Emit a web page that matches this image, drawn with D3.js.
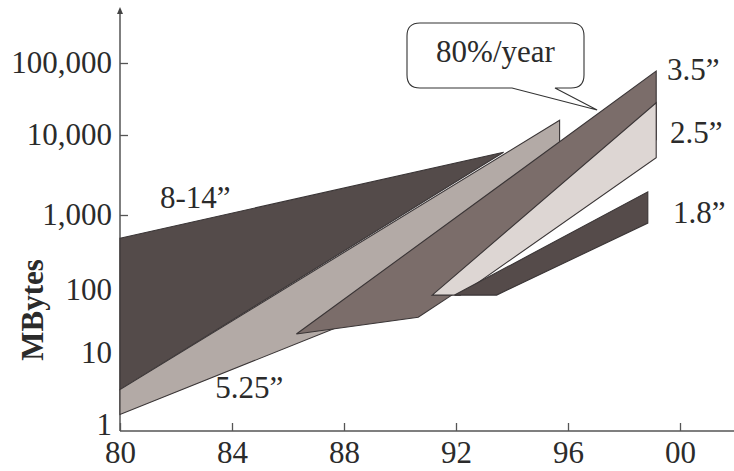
<!DOCTYPE html>
<html>
<head>
<meta charset="utf-8">
<script src="https://cdn.jsdelivr.net/npm/d3@7"></script>
<style>
  body { margin: 0; background: #fff; }
  svg { display: block; font-family: "Liberation Serif", "Times New Roman", serif; }
  .tick text { font-size: 31px; fill: #2b2b2b; }
  .label { font-size: 31px; fill: #2b2b2b; }
  .drive { stroke: #3a3536; stroke-width: 1.1; stroke-linejoin: miter; }
</style>
</head>
<body>
<div id="chart"></div>
<script>
// disk capacity bands, [year, MBytes] outline points
const drive8to14 = [[1980, 490], [1993.7, 6100], [1980, 3.1]];
const drive525 = [[1980, 3.1], [1995.7, 16000], [1995.7, 8700], [1995.7, 3700], [1989.3, 48], [1980, 1.4]];
const drive35 = [[1986.3, 20], [1999.15, 77000], [1999.15, 8700], [1991.85, 83], [1990.65, 37]];
const drive25 = [[1991.15, 83], [1999.15, 28000], [1999.15, 5200], [1992.15, 83]];
const drive18 = [[1991.95, 83], [1998.85, 1950], [1998.85, 780], [1993.45, 83]];

const driveNames = ['8-14\u201d', '5.25\u201d', '3.5\u201d', '2.5\u201d', '1.8\u201d'];
const driveColors = ['#544b4a', '#b3aaa6', '#7b6d6a', '#ddd6d3', '#554b4a'];
// label anchor [year, MBytes] (text baseline)
const labelPos = [[1981.43, 1220], [1983.4, 2.37], [1999.54, 58000], [1999.64, 7940], [1999.75, 782]];

const xTicks = [1980, 1984, 1988, 1992, 1996, 2000];
const yTicks = [1, 10, 100, 1000, 10000, 100000];
const yTickMarks = [1000, 10000, 100000];
const calloutText = '80%/year';
const calloutTip = [1997.04, 22200];

const width = 734, height = 471;
const axisX = 120, axisY = 431;

const svg = d3.select('#chart').append('svg')
  .attr('width', width)
  .attr('height', height);

const x = d3.scaleLinear()
  .domain([1980, 2000])
  .range([axisX, 680]);

// decades are not evenly spaced in the original drawing
const y = d3.scaleLog()
  .domain(yTicks)
  .range([425, 353, 290, 215, 135, 63]);

const line = d3.line()
  .x(d => x(d[0]))
  .y(d => y(d[1]));

// axes lines first
svg.append('line')
  .attr('x1', axisX).attr('x2', width)
  .attr('y1', axisY).attr('y2', axisY)
  .attr('stroke', '#555').attr('stroke-width', 1.5);

svg.append('line')
  .attr('x1', axisX).attr('x2', axisX)
  .attr('y1', axisY).attr('y2', 12)
  .attr('stroke', '#555').attr('stroke-width', 1.5);

svg.append('path')
  .attr('d', `M${axisX} 7 L${axisX - 3} 14 L${axisX + 3} 14 Z`)
  .attr('fill', '#444');

const xAxis = svg.append('g')
  .attr('transform', `translate(0,${axisY})`)
  .call(d3.axisBottom(x)
    .tickValues(xTicks)
    .tickSizeInner(-8)
    .tickSizeOuter(0)
    .tickPadding(10)
    .tickFormat(d => String(d % 100).padStart(2, '0')));
xAxis.attr('font-family', null).attr('font-size', null);
xAxis.select('.domain').remove();
xAxis.selectAll('.tick line').attr('stroke', '#555').attr('stroke-width', 1.3);

const yAxis = svg.append('g')
  .attr('transform', `translate(${axisX},0)`)
  .call(d3.axisLeft(y)
    .tickValues(yTicks)
    .tickSizeInner(-8)
    .tickSizeOuter(0)
    .tickPadding(8)
    .tickFormat(d3.format(',')));
yAxis.attr('font-family', null).attr('font-size', null);
yAxis.select('.domain').remove();
yAxis.selectAll('.tick line')
  .attr('stroke', '#555').attr('stroke-width', 1.3)
  .attr('display', d => yTickMarks.includes(d) ? null : 'none');

svg.append('text')
  .attr('class', 'label')
  .attr('transform', 'translate(43,310) rotate(-90)')
  .attr('text-anchor', 'middle')
  .attr('font-weight', 'bold')
  .text('MBytes');

// bands, back to front
const drives = [drive8to14, drive525, drive35, drive25, drive18];
svg.append('g').selectAll('path')
  .data(drives)
  .join('path')
  .attr('class', 'drive')
  .attr('fill', (d, i) => driveColors[i])
  .attr('d', d => line(d) + 'Z');

svg.append('g').selectAll('text')
  .data(driveNames)
  .join('text')
  .attr('class', 'label')
  .attr('x', (d, i) => x(labelPos[i][0]))
  .attr('y', (d, i) => y(labelPos[i][1]))
  .text(d => d);

// speech bubble
const bx0 = 407, bx1 = 584, by0 = 23, by1 = 88, r = 13;
const tx = x(calloutTip[0]), ty = y(calloutTip[1]);
const bubble = `M${bx0 + r},${by0} L${bx1 - r},${by0} Q${bx1},${by0} ${bx1},${by0 + r}
  L${bx1},${by1 - r} Q${bx1},${by1} ${bx1 - r},${by1} L555,${by1} L${tx},${ty} L512,${by1}
  L${bx0 + r},${by1} Q${bx0},${by1} ${bx0},${by1 - r} L${bx0},${by0 + r} Q${bx0},${by0} ${bx0 + r},${by0} Z`;
svg.append('path')
  .attr('d', bubble)
  .attr('fill', '#fff')
  .attr('stroke', '#333')
  .attr('stroke-width', 1.1);

svg.append('text')
  .attr('class', 'label')
  .attr('x', (bx0 + bx1) / 2)
  .attr('y', 62)
  .attr('text-anchor', 'middle')
  .text(calloutText);
</script>
</body>
</html>
